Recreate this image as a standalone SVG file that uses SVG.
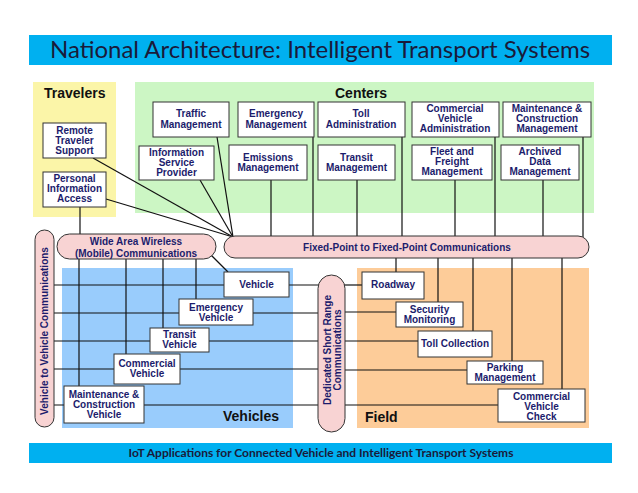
<svg xmlns="http://www.w3.org/2000/svg" width="638" height="493" viewBox="0 0 638 493">
<style>
.box{fill:#fff;stroke:#333;stroke-width:1}
.t{font-family:"Liberation Sans",Arial,sans-serif;font-weight:bold;font-size:10px;fill:#1c1c6c;text-anchor:middle}
.rl{font-family:"Liberation Sans",Arial,sans-serif;font-weight:bold;font-size:14px;fill:#111}
.bub{fill:#f8d3d3;stroke:#333;stroke-width:1}
.c{stroke:#111;stroke-width:1.2;fill:none}
.ban{fill:#00b0f0}
</style>
<rect width="638" height="493" fill="#fff"/>
<g id="title">
<rect class="ban" x="29" y="35" width="583" height="30"/>
<text x="320" y="58" font-family="Lato,'Open Sans',sans-serif" font-size="24" fill="#1a1a3a" text-anchor="middle">National Architecture: Intelligent Transport Systems</text>
</g>
<g id="footer">
<rect class="ban" x="29" y="443" width="583" height="20"/>
<text x="321" y="457" font-family="Lato,'Open Sans',sans-serif" font-weight="bold" font-size="12" fill="#1a1a3a" text-anchor="middle">IoT Applications for Connected Vehicle and Intelligent Transport Systems</text>
</g>
<g id="regions">
<rect x="33" y="82" width="83" height="135" fill="#fbf5a8"/>
<rect x="135" y="82" width="459" height="131" fill="#ccf6c4"/>
<rect x="62" y="268" width="231" height="160" fill="#99ccfc"/>
<rect x="357" y="268" width="232" height="160" fill="#fdcc99"/>
<text class="rl" x="44" y="98">Travelers</text>
<text class="rl" x="335" y="98">Centers</text>
<text class="rl" x="223" y="421">Vehicles</text>
<text class="rl" x="365" y="422">Field</text>
</g>
<g id="connectors">
<line class="c" x1="93" y1="158" x2="233" y2="237"/>
<line class="c" x1="106" y1="199" x2="233" y2="237"/>
<line class="c" x1="200" y1="180" x2="233" y2="237"/>
<line class="c" x1="217" y1="137" x2="233" y2="237"/>
<line class="c" x1="80" y1="207" x2="80" y2="236"/>
<line class="c" x1="271" y1="180" x2="271" y2="237"/>
<line class="c" x1="313" y1="137" x2="313" y2="237"/>
<line class="c" x1="357" y1="180" x2="357" y2="237"/>
<line class="c" x1="402" y1="137" x2="402" y2="237"/>
<line class="c" x1="455" y1="180" x2="455" y2="237"/>
<line class="c" x1="495" y1="137" x2="495" y2="237"/>
<line class="c" x1="543" y1="180" x2="543" y2="237"/>
<line class="c" x1="583" y1="137" x2="583" y2="237"/>
<line class="c" x1="396" y1="257" x2="396" y2="272"/>
<line class="c" x1="438" y1="257" x2="438" y2="302"/>
<line class="c" x1="473" y1="257" x2="473" y2="331"/>
<line class="c" x1="512" y1="257" x2="512" y2="361"/>
<line class="c" x1="562" y1="257" x2="562" y2="389"/>
<line class="c" x1="79" y1="257" x2="79" y2="386"/>
<line class="c" x1="126" y1="257" x2="126" y2="354"/>
<line class="c" x1="163" y1="257" x2="163" y2="328"/>
<line class="c" x1="196" y1="257" x2="196" y2="299"/>
<line class="c" x1="211" y1="255" x2="228" y2="272"/>
<line class="c" x1="53" y1="285" x2="319" y2="285"/>
<line class="c" x1="53" y1="313" x2="319" y2="313"/>
<line class="c" x1="53" y1="341" x2="319" y2="341"/>
<line class="c" x1="53" y1="369" x2="319" y2="369"/>
<line class="c" x1="53" y1="405" x2="319" y2="405"/>
<line class="c" x1="344" y1="285" x2="362" y2="285"/>
<line class="c" x1="344" y1="312" x2="396" y2="312"/>
<line class="c" x1="344" y1="341" x2="418" y2="341"/>
<line class="c" x1="344" y1="370" x2="467" y2="370"/>
<line class="c" x1="344" y1="405" x2="498" y2="405"/>
</g>
<g id="wide-area-wireless">
<rect class="bub" x="57" y="234" width="159" height="25" rx="12.5"/>
<text class="t" x="136" y="245">Wide Area Wireless</text>
<text class="t" x="136" y="257">(Mobile)  Communications</text>
</g>
<g id="fixed-point">
<rect class="bub" x="224" y="236" width="365" height="22" rx="11"/>
<text class="t" x="407" y="251">Fixed-Point to Fixed-Point Communications</text>
</g>
<g id="v2v">
<rect class="bub" x="35" y="230" width="19" height="197" rx="9.5"/>
<text class="t" transform="translate(48,331) rotate(-90)">Vehicle to Vehicle Communications</text>
</g>
<g id="dsrc">
<rect class="bub" x="318" y="275" width="27" height="157" rx="13.5"/>
<text class="t" transform="translate(331,350) rotate(-90)">Dedicated Short Range</text>
<text class="t" transform="translate(341,350) rotate(-90)">Communications</text>
</g>
<g id="remote-traveler-support"><rect class="box" x="43" y="123" width="63" height="35"/><text class="t" x="74.5" y="134">Remote</text><text class="t" x="74.5" y="144">Traveler</text><text class="t" x="74.5" y="154">Support</text></g>
<g id="personal-information-access"><rect class="box" x="43" y="172" width="63" height="35"/><text class="t" x="74.5" y="182">Personal</text><text class="t" x="74.5" y="192">Information</text><text class="t" x="74.5" y="202">Access</text></g>
<g id="traffic-management"><rect class="box" x="153" y="102" width="76" height="35"/><text class="t" x="191" y="117">Traffic</text><text class="t" x="191" y="128">Management</text></g>
<g id="emergency-management"><rect class="box" x="238" y="102" width="76" height="35"/><text class="t" x="276" y="117">Emergency</text><text class="t" x="276" y="128">Management</text></g>
<g id="toll-administration"><rect class="box" x="318" y="102" width="87" height="35"/><text class="t" x="361" y="117">Toll</text><text class="t" x="361" y="128">Administration</text></g>
<g id="commercial-vehicle-administration"><rect class="box" x="412" y="102" width="87" height="35"/><text class="t" x="455" y="112">Commercial</text><text class="t" x="455" y="122">Vehicle</text><text class="t" x="455" y="132">Administration</text></g>
<g id="maintenance-construction-management"><rect class="box" x="503" y="102" width="88" height="35"/><text class="t" x="547" y="112">Maintenance &amp;</text><text class="t" x="547" y="122">Construction</text><text class="t" x="547" y="132">Management</text></g>
<g id="information-service-provider"><rect class="box" x="139" y="146" width="75" height="34"/><text class="t" x="176.5" y="156">Information</text><text class="t" x="176.5" y="166">Service</text><text class="t" x="176.5" y="176">Provider</text></g>
<g id="emissions-management"><rect class="box" x="229" y="145" width="78" height="35"/><text class="t" x="268" y="161">Emissions</text><text class="t" x="268" y="171">Management</text></g>
<g id="transit-management"><rect class="box" x="318" y="145" width="77" height="35"/><text class="t" x="356.5" y="161">Transit</text><text class="t" x="356.5" y="171">Management</text></g>
<g id="fleet-freight-management"><rect class="box" x="412" y="145" width="80" height="35"/><text class="t" x="452" y="155">Fleet and</text><text class="t" x="452" y="165">Freight</text><text class="t" x="452" y="175">Management</text></g>
<g id="archived-data-management"><rect class="box" x="501" y="145" width="78" height="35"/><text class="t" x="540" y="155">Archived</text><text class="t" x="540" y="165">Data</text><text class="t" x="540" y="175">Management</text></g>
<g id="vehicle"><rect class="box" x="224" y="272" width="65" height="25"/><text class="t" x="256.5" y="288">Vehicle</text></g>
<g id="emergency-vehicle"><rect class="box" x="179" y="299" width="74" height="26"/><text class="t" x="216" y="311">Emergency</text><text class="t" x="216" y="321">Vehicle</text></g>
<g id="transit-vehicle"><rect class="box" x="150" y="328" width="59" height="24"/><text class="t" x="179.5" y="338">Transit</text><text class="t" x="179.5" y="348">Vehicle</text></g>
<g id="commercial-vehicle"><rect class="box" x="114" y="354" width="66" height="30"/><text class="t" x="147" y="367">Commercial</text><text class="t" x="147" y="377">Vehicle</text></g>
<g id="maintenance-construction-vehicle"><rect class="box" x="64" y="386" width="80" height="37"/><text class="t" x="104" y="398">Maintenance &amp;</text><text class="t" x="104" y="408">Construction</text><text class="t" x="104" y="418">Vehicle</text></g>
<g id="roadway"><rect class="box" x="362" y="272" width="62" height="27"/><text class="t" x="393" y="288">Roadway</text></g>
<g id="security-monitoring"><rect class="box" x="396" y="302" width="67" height="25"/><text class="t" x="429.5" y="313">Security</text><text class="t" x="429.5" y="323">Monitoring</text></g>
<g id="toll-collection"><rect class="box" x="418" y="331" width="74" height="26"/><text class="t" x="455" y="347">Toll Collection</text></g>
<g id="parking-management"><rect class="box" x="467" y="361" width="76" height="23"/><text class="t" x="505" y="371">Parking</text><text class="t" x="505" y="381">Management</text></g>
<g id="commercial-vehicle-check"><rect class="box" x="498" y="389" width="87" height="33"/><text class="t" x="541.5" y="400">Commercial</text><text class="t" x="541.5" y="410">Vehicle</text><text class="t" x="541.5" y="420">Check</text></g>
</svg>
